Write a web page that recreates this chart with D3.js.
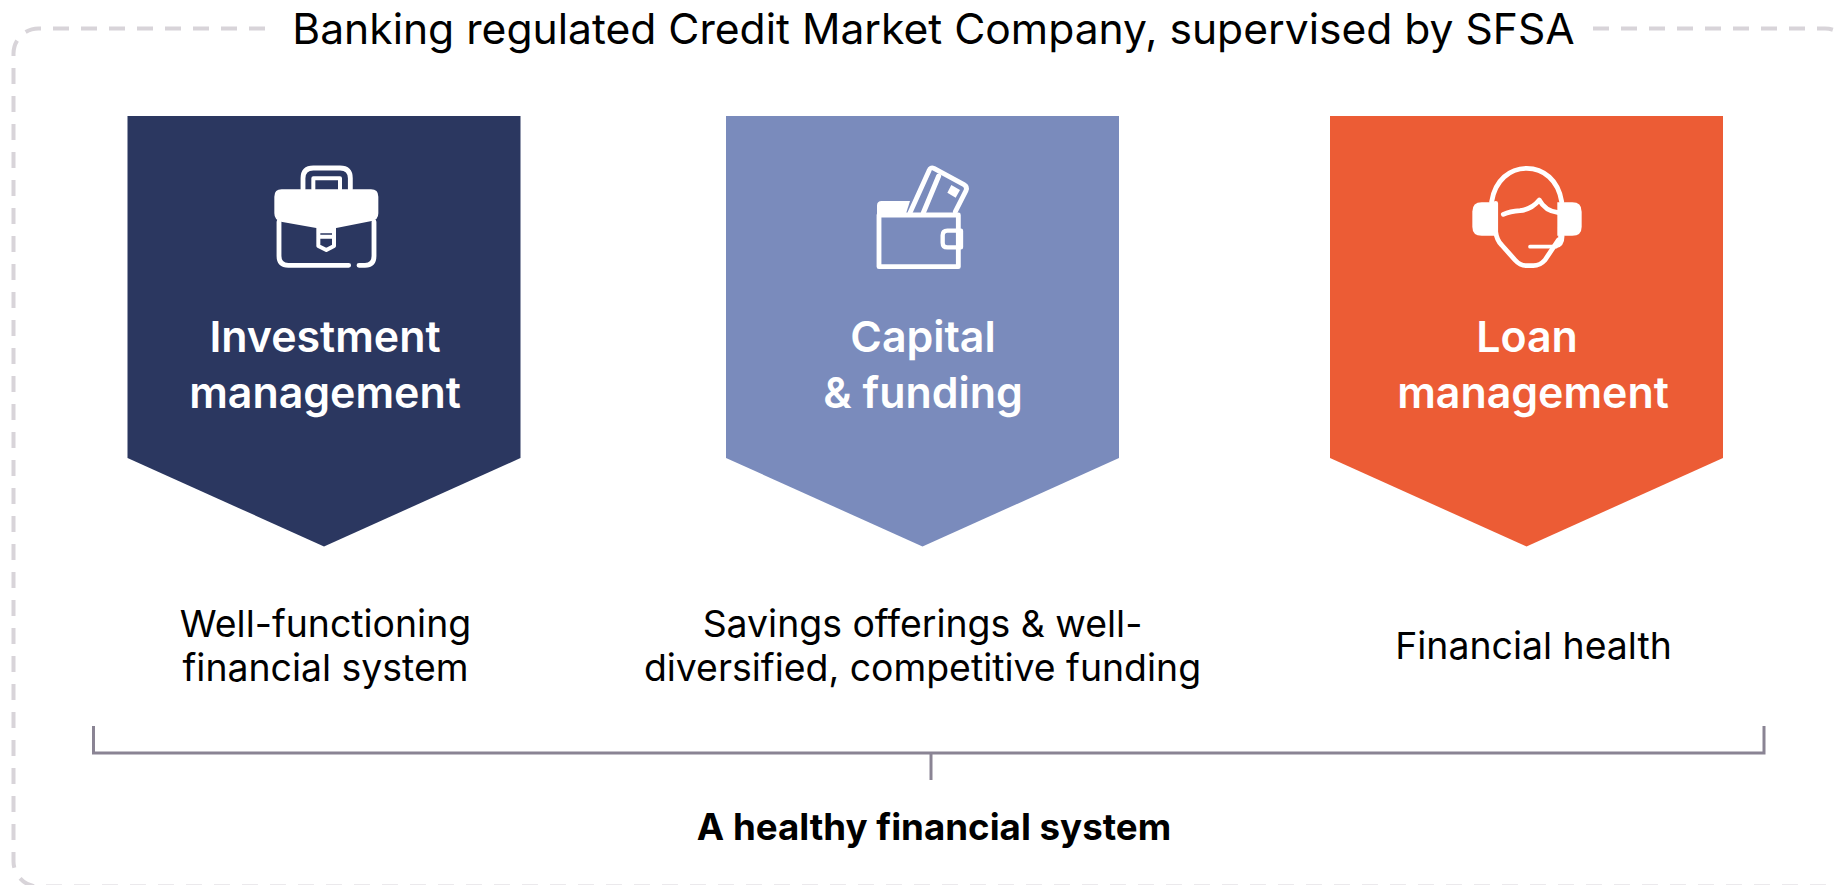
<!DOCTYPE html>
<html><head><meta charset="utf-8">
<style>html,body{margin:0;padding:0;background:#fff;overflow:hidden}svg{display:block}text{font-family:Inter,sans-serif;fill:#000}</style>
<script src="https://cdn.jsdelivr.net/npm/d3@7"></script></head><body>
<script>
const titleText = "Banking regulated Credit Market Company, supervised by SFSA";
const panelKeys = ["investment","capital","loan"];
const panelHeadings = [["Investment","management"],["Capital","& funding"],["Loan","management"]];
const panelDescriptions = [["Well-functioning","financial system"],["Savings offerings & well-","diversified, competitive funding"],["Financial health"]];
const panelColors = ["#2b3760","#7a8bbc","#ec5c35"];
const footerText = "A healthy financial system";

const W=1834,H=885;
const svg=d3.select("body").append("svg").attr("width",W).attr("height",H);
const panelX=d3.scaleOrdinal().domain(panelKeys).range([324,922.5,1526.5]);
const headingOffset=[[0,0],[-0.5,-0.5],[-0.5,5.5]];
const descX=d3.scaleOrdinal().domain(panelKeys).range([325.5,922.5,1533.5]);
const descY=[[636.5,681],[636.5,681],[659]];
const halfW=196.5, panelTop=116, shoulder=458, tip=546.5;

// dashed frame
const dashL=d3.path();
dashL.moveTo(265,28.5);dashL.lineTo(38.5,28.5);dashL.arcTo(13.5,28.5,13.5,53.5,25);dashL.lineTo(13.5,861.5);dashL.arcTo(13.5,886.5,38.5,886.5,25);dashL.lineTo(1900,886.5);
svg.append("path").attr("d",dashL.toString()).attr("fill","none").attr("stroke","#d8d4d9").attr("stroke-width",4).attr("stroke-dasharray","16 12");
const dashR=d3.path();
dashR.moveTo(1593,28.5);dashR.lineTo(1825,28.5);dashR.arcTo(1850,28.5,1850,53.5,25);dashR.lineTo(1850,884);
svg.append("path").attr("d",dashR.toString()).attr("fill","none").attr("stroke","#d8d4d9").attr("stroke-width",4).attr("stroke-dasharray","16 12");

svg.append("text").attr("x",933.5).attr("y",44).attr("text-anchor","middle").attr("font-size",42.6).text(titleText);

// panels
const line=d3.line();
const g=svg.selectAll("g.panel").data(panelKeys).join("g").attr("class","panel");
g.append("path").attr("fill",(d,i)=>panelColors[i]).attr("d",d=>{
  const c=panelX(d);
  return line([[c-halfW,panelTop],[c+halfW,panelTop],[c+halfW,shoulder],[c,tip],[c-halfW,shoulder]])+"Z";
});
g.each(function(d,i){
  const p=d3.select(this);
  panelHeadings[i].forEach((t,j)=>p.append("text").attr("x",panelX(d)+headingOffset[i][j]+1).attr("y",j?408:352)
    .attr("text-anchor","middle").attr("font-size",42.9).attr("font-weight",600).style("fill","#fff").text(t));
  panelDescriptions[i].forEach((t,j)=>p.append("text").attr("x",descX(d)).attr("y",descY[i][j])
    .attr("text-anchor","middle").attr("font-size",37.4).text(t));
});

// icons (paths in 3x crop units)
function icon(x,y){return svg.append("g").attr("transform",`translate(${x},${y}) scale(${1/3})`)
  .attr("fill","none").attr("stroke","#fff").attr("stroke-width",14.5).attr("stroke-linecap","round").attr("stroke-linejoin","round");}
const a=icon(230,150);
a.append("path").attr("d","M219 118V85Q219 54 250 54H330Q361 54 361 85V118");
a.append("path").attr("d","M250 118V85H330V118").attr("stroke-width",12);
a.append("path").attr("fill","#fff").attr("stroke","none").attr("d","M155 118H423Q445 118 445 140V190Q445 210 425 213L315 235V250H263V235L153 215Q133 210 133 190V140Q133 118 155 118Z");
a.append("path").attr("d","M147 215V318Q147 346 175 346H356M387 346H405Q432 346 432 318V215");
a.append("path").attr("stroke-width",12).attr("d","M265 235V288L289 300L312 288V235M265 260H312");
const b=icon(830,150);
b.append("path").attr("fill","#fff").attr("stroke","none").attr("d","M155 153H240L225 200H141V167Q141 153 155 153Z");
b.append("path").attr("d","M147 195V350H385V195H147");
b.append("path").attr("stroke-width",13).attr("d","M393 242H352Q338 242 338 256V278Q338 292 352 292H393Z");
b.append("path").attr("d","M240 188L297 62Q301 50 312 55L402 104Q413 110 408 122L376 185");
b.append("path").attr("stroke-width",15).attr("d","M280 188L326 78");
b.append("path").attr("fill","#fff").attr("stroke","none").attr("d","M364 105L390 120L377 143L352 128Z");
const c=icon(1430,150);
c.append("path").attr("d","M185 155C195 90 240 55 290 55C340 55 385 90 395 155");
c.append("path").attr("d","M197 160V245Q200 270 215 285L255 330Q270 347 290 347H310Q330 347 345 330L385 270");
c.append("path").attr("fill","#fff").attr("stroke","none").attr("d","M155 157H200V257H155Q127 257 127 230V185Q127 157 155 157Z");
c.append("path").attr("fill","#fff").attr("stroke","none").attr("d","M382 157H427Q455 157 455 185V230Q455 257 427 257H382Z");
c.append("path").attr("d","M220 193Q240 184 270 182Q305 178 328 150Q345 183 385 188");
c.append("path").attr("stroke-width",11).attr("d","M300 290H375Q398 288 398 258M378 290Q392 285 390 258");

// bracket
const bx=d3.scaleLinear().domain([0,1]).range([93.5,1764]);
svg.append("path").attr("fill","none").attr("stroke","#8a8494").attr("stroke-width",3)
  .attr("d",line([[bx(0),726],[bx(0),753],[bx(1),753],[bx(1),726]]));
svg.append("path").attr("fill","none").attr("stroke","#8a8494").attr("stroke-width",3)
  .attr("d",line([[931,753],[931,780]]));
svg.append("text").attr("x",934).attr("y",840).attr("text-anchor","middle").attr("font-size",36.7).attr("font-weight",700).text(footerText);
</script></body></html>
